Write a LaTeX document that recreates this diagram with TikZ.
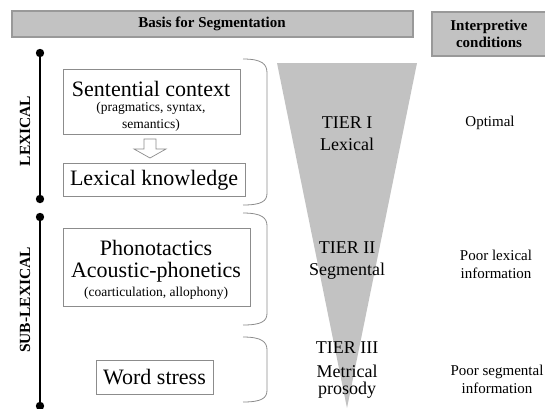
\documentclass[tikz,border=0pt]{standalone}
\usepackage{fontspec}
\setmainfont{Liberation Serif}
\definecolor{hdrfill}{gray}{0.76}
\definecolor{hdrline}{gray}{0.6}
\definecolor{boxline}{gray}{0.55}
\definecolor{funnel}{gray}{0.76}
\tikzset{
  hdr/.style={draw=hdrline, fill=hdrfill, line width=1.2bp},
  hdrtext/.style={font=\fontsize{15bp}{17bp}\selectfont\bfseries, align=center, inner sep=0pt},
  tbox/.style={draw=boxline, line width=0.8bp},
  big/.style={font=\fontsize{22bp}{24bp}\selectfont, inner sep=0pt},
  small/.style={font=\fontsize{13.5bp}{15bp}\selectfont, inner sep=0pt},
  tier/.style={font=\fontsize{18bp}{20bp}\selectfont, inner sep=0pt},
  cond/.style={font=\fontsize{15bp}{18bp}\selectfont, inner sep=0pt, align=center},
  side/.style={font=\fontsize{15.5bp}{17bp}\selectfont\bfseries, inner sep=0pt, rotate=90},
  brace/.style={draw=boxline, line width=0.8bp},
  dotline/.style={line width=2.4bp, black},
  hollowarrow/.style={draw=boxline, fill=white, line width=0.7bp, line join=miter},
}
\begin{document}
\begin{tikzpicture}[x=1bp, y=-1bp]
\useasboundingbox (0,0) rectangle (545,408);
% headers
\draw[hdr] (12,11) rectangle (413,37);
\node[hdrtext] (basis) at (212,24) {Basis for Segmentation};
\draw[hdr] (432,12) rectangle (547,56);
\node[hdrtext] (interp) at (489,34) {Interpretive\\conditions};
% funnel
\fill[funnel] (277,63) -- (417,63) -- (347,408) -- cycle;
% vertical lines with dots
\coordinate (l1a) at (40,53);
\coordinate (l1b) at (40,199);
\coordinate (l2a) at (40,217);
\coordinate (l2b) at (40,406);
\draw[dotline] (l1a) -- (l1b);
\draw[dotline] (l2a) -- (l2b);
\foreach \p in {l1a,l1b,l2a,l2b} \fill (\p) circle (4.2bp);
\node[side] (lex) at (25,131) {LEXICAL};
\node[side] (sublex) at (25,300) {SUB-LEXICAL};
% boxes
\draw[tbox] (63,69) rectangle (240,134);
\node[big] (sent) at (151,89) {Sentential context};
\node[small] (prag) at (151,108) {(pragmatics, syntax,};
\node[small] (sem) at (151,125) {semantics)};
% hollow block arrow
\draw[hollowarrow] (144,139) -- (156,139) -- (156,149) -- (166,149) -- (150,158) -- (134,149) -- (144,149) -- cycle;
\draw[tbox] (63,163) rectangle (245,196);
\node[big] (lexk) at (154,180) {Lexical knowledge};
\draw[tbox] (63,228) rectangle (250,306);
\node[big] (phono) at (156,248) {Phonotactics};
\node[big] (acou) at (156,272) {Acoustic-phonetics};
\node[small] (coart) at (156,293) {(coarticulation, allophony)};
\draw[tbox] (96,360) rectangle (213,394);
\node[big] (word) at (154.5,377) {Word stress};
% braces
\draw[brace] (243,59) .. controls (262,59) and (267,64) .. (267,73) -- (267,193) .. controls (267,201) and (262,205) .. (243,205);
\draw[brace] (243,213) .. controls (262,213) and (267,218) .. (267,226) -- (267,313) .. controls (267,321) and (262,325) .. (243,325);
\draw[brace] (243,337) .. controls (262,337) and (267,342) .. (267,350) -- (267,390) .. controls (267,398) and (262,402) .. (243,402);
% tiers
\node[tier] (t1) at (347,123) {TIER I};
\node[tier] (t1b) at (347,144) {Lexical};
\node[tier] (t2) at (347,248) {TIER II};
\node[tier] (t2b) at (347,271) {Segmental};
\node[tier] (t3) at (347,348) {TIER III};
\node[tier] (t3b) at (347,371) {Metrical};
\node[tier] (t3c) at (347,390) {prosody};
% conditions
\node[cond] (c1) at (490,123) {Optimal};
\node[cond] (c2) at (496,264) {Poor lexical\\information};
\node[cond] (c3) at (497,379) {Poor segmental\\information};
\end{tikzpicture}
\end{document}
